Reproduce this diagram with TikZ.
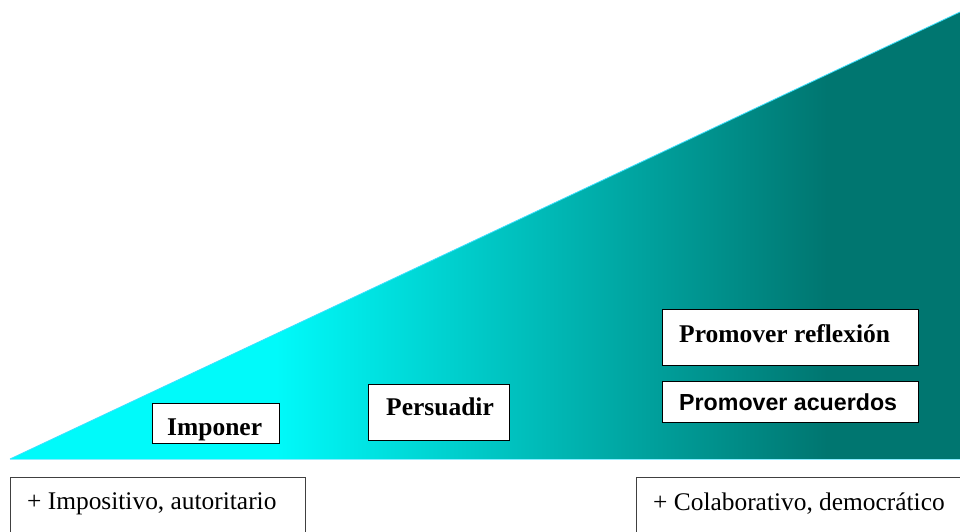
\documentclass[tikz,border=0pt]{standalone}
\usepackage{fontspec}
\setmainfont{Liberation Serif}
\newfontfamily\arialb{Liberation Sans}
\definecolor{cyanc}{RGB}{0,250,250}
\definecolor{tealc}{RGB}{0,118,112}
\definecolor{edgec}{RGB}{60,225,255}
\pgfdeclarehorizontalshading{trishade}{100bp}{color(0bp)=(cyanc); color(39bp)=(cyanc); color(68bp)=(tealc); color(100bp)=(tealc)}
\tikzset{
  whitebox/.style={draw=black, fill=white, line width=1.4pt, inner sep=0pt, anchor=north west},
  lowbox/.style={draw=black!75, fill=white, line width=1.3pt, inner sep=0pt, anchor=north west},
  lbl/.style={inner sep=0pt, anchor=base west, text=black},
  bserif/.style={font=\fontsize{25.5}{29}\selectfont\bfseries},
  bsans/.style={font=\arialb\fontsize{23.2}{27}\selectfont\bfseries},
  rserif/.style={font=\fontsize{25.4}{29}\selectfont},
}
\begin{document}
\begin{tikzpicture}[x=1pt,y=-1pt]
\useasboundingbox (0,0) rectangle (960,532);
\clip (0,0) rectangle (960,532);
\fill[white] (0,0) rectangle (960,532);
% triangle
\coordinate (tl) at (10,459);
\coordinate (tr) at (960,12);
\coordinate (br) at (960,459);
\shade[shading=trishade] (tl) -- (tr) -- (br) -- cycle;
\draw[edgec, line width=0.8pt] (tl) -- (tr);
\draw[edgec!60, line width=1pt] (tl) -- (br);
% boxes on triangle
\node[whitebox, minimum width=127pt, minimum height=40pt] (imp) at (152,403) {};
\node[lbl, bserif] (impt) at (167,435) {Imponer};
\node[whitebox, minimum width=141pt, minimum height=56pt] (per) at (368,384) {};
\node[lbl, bserif] (pert) at (386,415) {Persuadir};
\node[whitebox, minimum width=256pt, minimum height=56pt] (ref) at (662,309) {};
\node[lbl, bserif] (reft) at (679,342) {Promover reflexión};
\node[whitebox, minimum width=256pt, minimum height=41pt] (acu) at (662,381) {};
\node[lbl, bsans] (acut) at (679,410) {Promover acuerdos};
% bottom boxes
\node[lowbox, minimum width=295pt, minimum height=80pt] (left) at (10,477) {};
\node[lbl, rserif] (leftt) at (27,509) {+ Impositivo, autoritario};
\node[lowbox, minimum width=340pt, minimum height=80pt] (right) at (636,477) {};
\node[lbl, rserif] (rightt) at (653,510) {+ Colaborativo, democrático};
\end{tikzpicture}
\end{document}
